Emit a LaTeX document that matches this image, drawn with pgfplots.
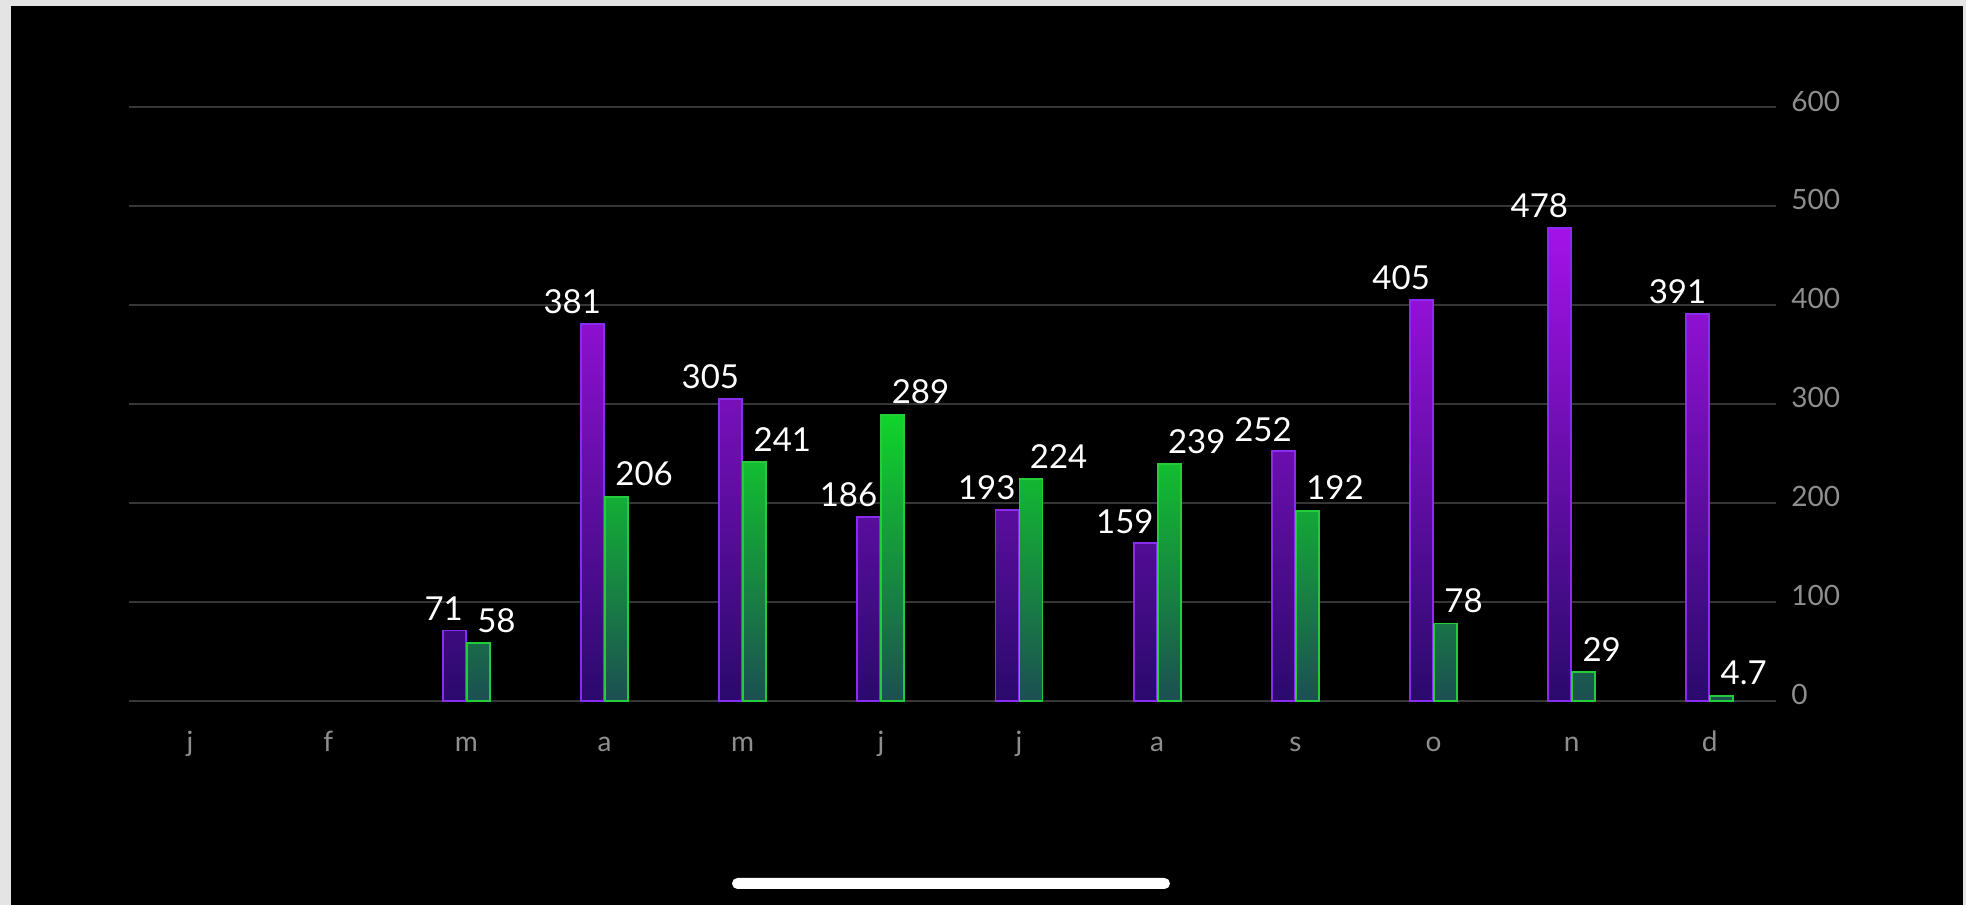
\documentclass[border=0pt]{standalone}
\usepackage{fontspec}
\setmainfont{Lato}
\usepackage{pgfplots}
\pgfplotsset{compat=1.18}

\definecolor{vTop}{HTML}{A412E8}
\definecolor{vBot}{HTML}{2A0A6C}
\definecolor{vEdge}{HTML}{8A2CF0}
\definecolor{gTop}{HTML}{10D42A}
\definecolor{gBot}{HTML}{1C4F52}
\definecolor{gEdge}{HTML}{24CC3C}
\definecolor{gridgray}{HTML}{363636}
\definecolor{labelgray}{HTML}{8E8E8E}
\definecolor{framegray}{HTML}{E4E4E4}

\tikzset{valuelabel/.style={white, inner sep=0pt, font=\fontsize{16.5}{19}\selectfont}}

% labels are nudged by hand to sit beside their own bar
\pgfplotsset{
  violetbar/.style={ybar, bar width=0.1665, bar shift=-0.087,
    draw=vEdge, line width=0.9pt, bottom color=vBot,
    nodes near coords,
    every node near coord/.append style={valuelabel, anchor=south east, xshift=-1.35pt, yshift=4.5pt}},
  greenbar/.style={ybar, bar width=0.1665, bar shift=0.087,
    draw=gEdge, line width=0.9pt, bottom color=gBot,
    nodes near coords,
    every node near coord/.append style={valuelabel, anchor=south west, xshift=5pt, yshift=5pt}},
}

% one plot per bar, so the gradient top follows the bar height
\newcommand{\violetbar}[2]{%
  \pgfmathtruncatemacro{\pct}{round(#2/478*100)}%
  \edef\temp{\noexpand\addplot[violetbar, top color=vTop!\pct!vBot] coordinates {(#1,#2)};}%
  \temp}
\newcommand{\greenbar}[2]{%
  \pgfmathtruncatemacro{\pct}{round(#2/289*100)}%
  \edef\temp{\noexpand\addplot[greenbar, top color=gTop!\pct!gBot] coordinates {(#1,#2)};}%
  \temp}

\begin{document}
\begin{tikzpicture}
  \useasboundingbox (0,0) rectangle (983pt,452.5pt);
  \fill[framegray] (0,0) rectangle (983pt,452.5pt);
  \fill[black] (5.25pt,0) rectangle (981.5pt,449.5pt);

  \begin{axis}[
    at={(64.5pt,102.15pt)}, anchor=south west,
    scale only axis, width=823.5pt, height=296.85pt,
    xmin=-0.442, xmax=11.479, ymin=0, ymax=600,
    axis line style={draw=none},
    tick style={draw=none},
    major tick length=0pt,
    ytick={0,100,...,600}, yticklabel pos=right,
    ymajorgrids, grid style={gridgray, line width=1pt},
    xtick={0,...,11}, xticklabels={j,f,m,a,m,j,j,a,s,o,n,d},
    ticklabel style={labelgray, font=\fontsize{14}{16}\selectfont, inner sep=0pt},
    yticklabel style={anchor=base west, xshift=7.5pt, yshift=-2pt},
    xticklabel style={anchor=base, yshift=-25.65pt},
    /pgf/number format/assume math mode=true,
    clip=false,
  ]
    \violetbar{2}{71}
    \violetbar{3}{381}
    \violetbar{4}{305}
    \violetbar{5}{186}
    \violetbar{6}{193}
    \violetbar{7}{159}
    \violetbar{8}{252}
    \violetbar{9}{405}
    \violetbar{10}{478}
    \violetbar{11}{391}

    \greenbar{2}{58}
    \greenbar{3}{206}
    \greenbar{4}{241}
    \greenbar{5}{289}
    \greenbar{6}{224}
    \greenbar{7}{239}
    \greenbar{8}{192}
    \greenbar{9}{78}
    \greenbar{10}{29}
    \greenbar{11}{4.7}
  \end{axis}

  % home indicator
  \fill[white, rounded corners=2.75pt] (366pt,8pt) rectangle (585pt,13.5pt);
\end{tikzpicture}
\end{document}
